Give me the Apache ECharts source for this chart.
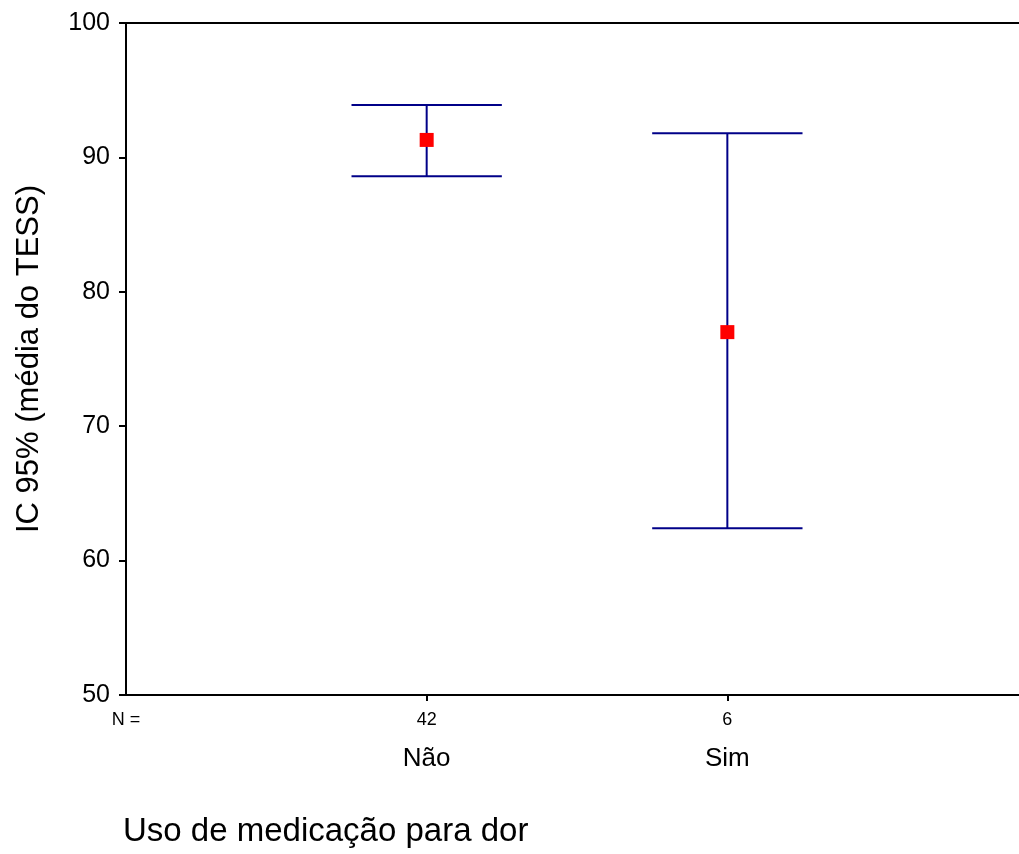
<!DOCTYPE html>
<html>
<head>
<meta charset="utf-8">
<script src="https://cdn.jsdelivr.net/npm/echarts@6/dist/echarts.min.js"></script>
<style>
html,body{margin:0;padding:0;background:#fff;}
#chart{width:1019px;height:854px;}
</style>
</head>
<body>
<div id="chart"></div>
<script>
const categories = ['Não', 'Sim'];
const nCounts = ['42', '6'];
const means = [91.3, 77.0];
const lower = [88.6, 62.4];
const upper = [93.9, 91.8];
const yTicks = [50, 60, 70, 80, 90, 100];

const chart = echarts.init(document.getElementById('chart'), null, {renderer: 'canvas'});
const FONT = 'Liberation Sans, Arial, sans-serif';
const NAVY = '#000088';

const errData = categories.map((c, i) => [i + 1, lower[i], upper[i]]);
const meanData = categories.map((c, i) => [i + 1, means[i]]);

const option = {
  animation: false,
  backgroundColor: '#fff',
  title: {
    text: 'Uso de medicação para dor',
    left: 118, top: 810,
    textStyle: {fontFamily: FONT, fontSize: 33, fontWeight: 'normal', color: '#000'}
  },
  grid: {left: 126, right: 0, top: 23, bottom: 159, containLabel: false},
  xAxis: [{
    type: 'value', min: 0, max: 2.97, position: 'bottom',
    splitLine: {show: false},
    axisLine: {show: true, onZero: false, lineStyle: {color: '#000', width: 2}},
    axisTick: {show: true, customValues: [1, 2], length: 6, lineStyle: {color: '#000', width: 2}},
    axisLabel: {
      customValues: [0, 1, 2], margin: 15, showMinLabel: true,
      formatter: function (v) {
        if (v === 0) return '{n|N =}';
        const i = Math.round(v) - 1;
        return '{n|' + nCounts[i] + '}\n{c|' + categories[i] + '}';
      },
      rich: {
        n: {fontFamily: FONT, fontSize: 18, color: '#000', lineHeight: 20},
        c: {fontFamily: FONT, fontSize: 26, color: '#000', lineHeight: 58}
      }
    }
  }, {
    type: 'value', min: 0, max: 2.97, position: 'top',
    splitLine: {show: false},
    axisLine: {show: true, onZero: false, lineStyle: {color: '#000', width: 2}},
    axisTick: {show: false}, axisLabel: {show: false}
  }],
  yAxis: {
    type: 'value', min: 50, max: 100, interval: 10,
    name: 'IC 95% (média do TESS)', nameLocation: 'middle', nameGap: 81, nameRotate: 90,
    nameTextStyle: {fontFamily: FONT, fontSize: 31, color: '#000'},
    splitLine: {show: false},
    axisLine: {show: true, lineStyle: {color: '#000', width: 2}},
    axisTick: {show: true, length: 7, lineStyle: {color: '#000', width: 2}},
    axisLabel: {
      fontFamily: FONT, fontSize: 25, color: '#000', margin: 16,
      formatter: function (v) { return yTicks.indexOf(v) >= 0 ? String(v) : ''; }
    }
  },
  series: [{
    type: 'custom',
    xAxisIndex: 0,
    data: errData,
    renderItem: function (params, api) {
      const x = api.value(0);
      const lo = api.coord([x, api.value(1)]);
      const hi = api.coord([x, api.value(2)]);
      const capL = api.coord([x - 0.25, api.value(1)])[0];
      const capR = api.coord([x + 0.25, api.value(1)])[0];
      const style = {stroke: NAVY, lineWidth: 2};
      return {
        type: 'group',
        children: [
          {type: 'line', shape: {x1: lo[0], y1: lo[1], x2: hi[0], y2: hi[1]}, style: style},
          {type: 'line', shape: {x1: capL, y1: hi[1], x2: capR, y2: hi[1]}, style: style},
          {type: 'line', shape: {x1: capL, y1: lo[1], x2: capR, y2: lo[1]}, style: style}
        ]
      };
    },
    z: 2
  }, {
    type: 'scatter',
    xAxisIndex: 0,
    data: meanData,
    symbol: 'rect',
    symbolSize: 14,
    itemStyle: {color: '#ff0000', opacity: 1},
    z: 3
  }]
};
chart.setOption(option);
</script>
</body>
</html>
